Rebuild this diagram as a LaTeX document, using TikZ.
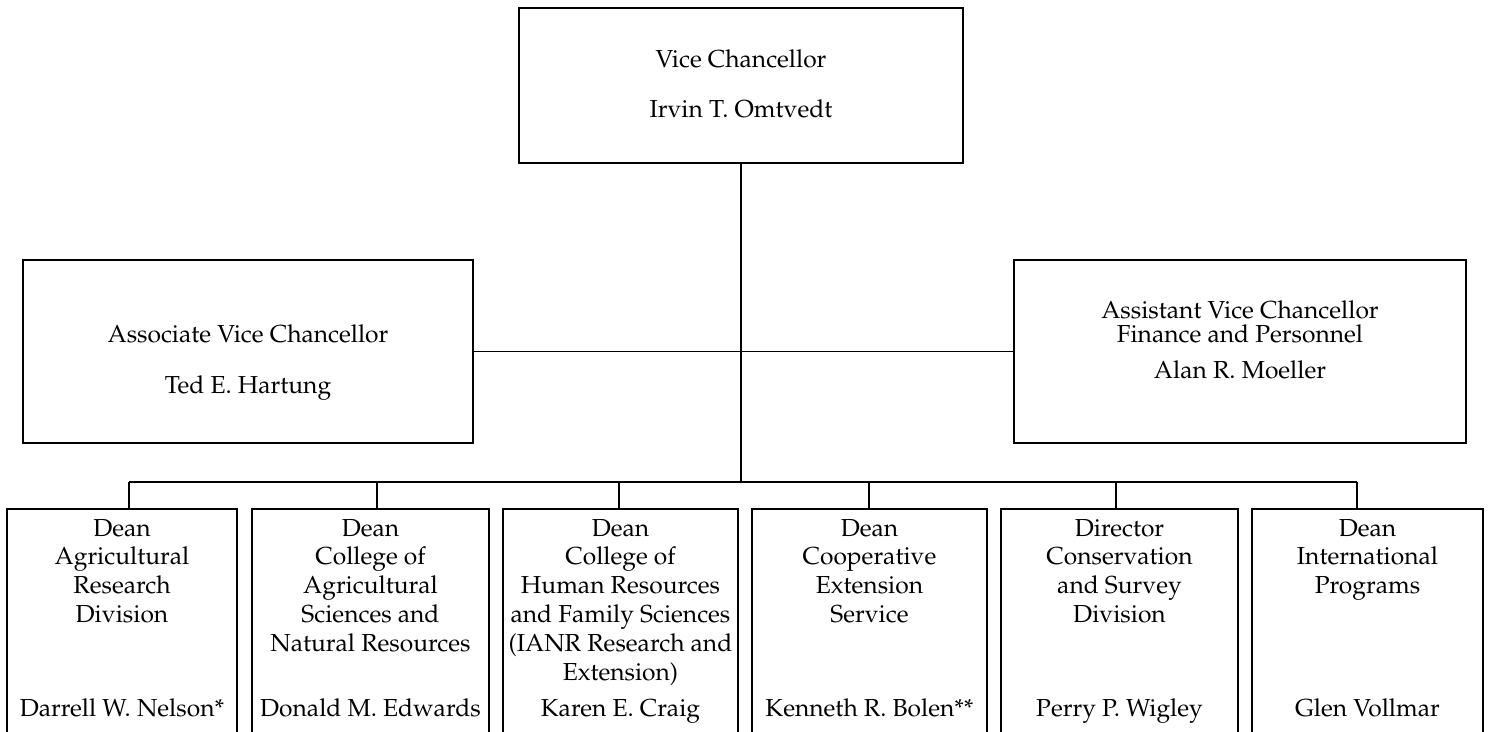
\documentclass[tikz,border=0pt]{standalone}
\usepackage[T1]{fontenc}
\usepackage{mathpazo}

\begin{document}
\begin{tikzpicture}[x=0.02cm,y=-0.02cm,line width=0.9pt]
	\tikzstyle{chef}=[draw,rectangle,inner sep=0pt,font=\fontsize{14}{14.2}\selectfont]
	\tikzstyle{dean}=[draw,rectangle,inner sep=0pt,font=\fontsize{14}{16.5}\selectfont]
	\useasboundingbox (0,0) rectangle (1489,731);
	\clip (0,0) rectangle (1489,731);
	% top of the chart
	\node[chef] (vc) at (741,85.5){\parbox[c][3.1cm][t]{8.88cm}{\centering\rule{0pt}{34.1pt}Vice Chancellor\\[14.26pt]Irvin T. Omtvedt\par\vfill}};
	\node[chef] (avc) at (248,351.5){\parbox[c][3.66cm][t]{9cm}{\centering\rule{0pt}{47.2pt}Associate Vice Chancellor\\[14.8pt]Ted E. Hartung\par\vfill}};
	\node[chef] (asst) at (1240,351.5){\parbox[c][3.66cm][t]{9.04cm}{\centering\rule{0pt}{33pt}Assistant Vice Chancellor\\Finance and Personnel\\[6.3pt]Alan R. Moeller\par\vfill}};
	% the six units
	\node[dean] (d1) at (122,627){\parbox[c][4.72cm][t]{4.6cm}{\centering\vspace*{3.8pt}\strut Dean\\Agricultural\\Research\\Division\par\vfill\strut Darrell W. Nelson*\strut\par\vspace*{11pt}}};
	\node[dean] (d2) at (370.5,627){\parbox[c][4.72cm][t]{4.74cm}{\centering\vspace*{3.8pt}\strut Dean\\College of\\Agricultural\\Sciences and\\Natural Resources\par\vfill\strut Donald M. Edwards\strut\par\vspace*{11pt}}};
	\node[dean] (d3) at (620.5,627){\parbox[c][4.72cm][t]{4.7cm}{\centering\vspace*{3.8pt}\strut Dean\\College of\\Human Resources\\and Family Sciences\\(IANR Research and\\Extension)\par\vfill\strut Karen E. Craig\strut\par\vspace*{11pt}}};
	\node[dean] (d4) at (869.5,627){\parbox[c][4.72cm][t]{4.7cm}{\centering\vspace*{3.8pt}\strut Dean\\Cooperative\\Extension\\Service\par\vfill\strut Kenneth R. Bolen**\strut\par\vspace*{11pt}}};
	\node[dean] (d5) at (1119.5,627){\parbox[c][4.72cm][t]{4.74cm}{\centering\vspace*{3.8pt}\strut Director\\Conservation\\and Survey\\Division\par\vfill\strut Perry P. Wigley\strut\par\vspace*{11pt}}};
	\node[dean] (d6) at (1367.5,627){\parbox[c][4.72cm][t]{4.62cm}{\centering\vspace*{3.8pt}\strut Dean\\International\\Programs\par\vfill\strut Glen Vollmar\strut\par\vspace*{11pt}}};
	% lines
	\coordinate (bus) at (741,482);
	\coordinate (t1) at (129,482);
	\coordinate (t2) at (377,482);
	\coordinate (t3) at (619,482);
	\coordinate (t4) at (869,482);
	\coordinate (t5) at (1116,482);
	\coordinate (t6) at (1357,482);
	\draw (vc.south) -- (bus);
	\draw (avc.east) -- (asst.west);
	\draw (t1) -- (t6);
	\draw (t1) -- (t1 |- d1.north);
	\draw (t2) -- (t2 |- d2.north);
	\draw (t3) -- (t3 |- d3.north);
	\draw (t4) -- (t4 |- d4.north);
	\draw (t5) -- (t5 |- d5.north);
	\draw (t6) -- (t6 |- d6.north);
\end{tikzpicture}
\end{document}
